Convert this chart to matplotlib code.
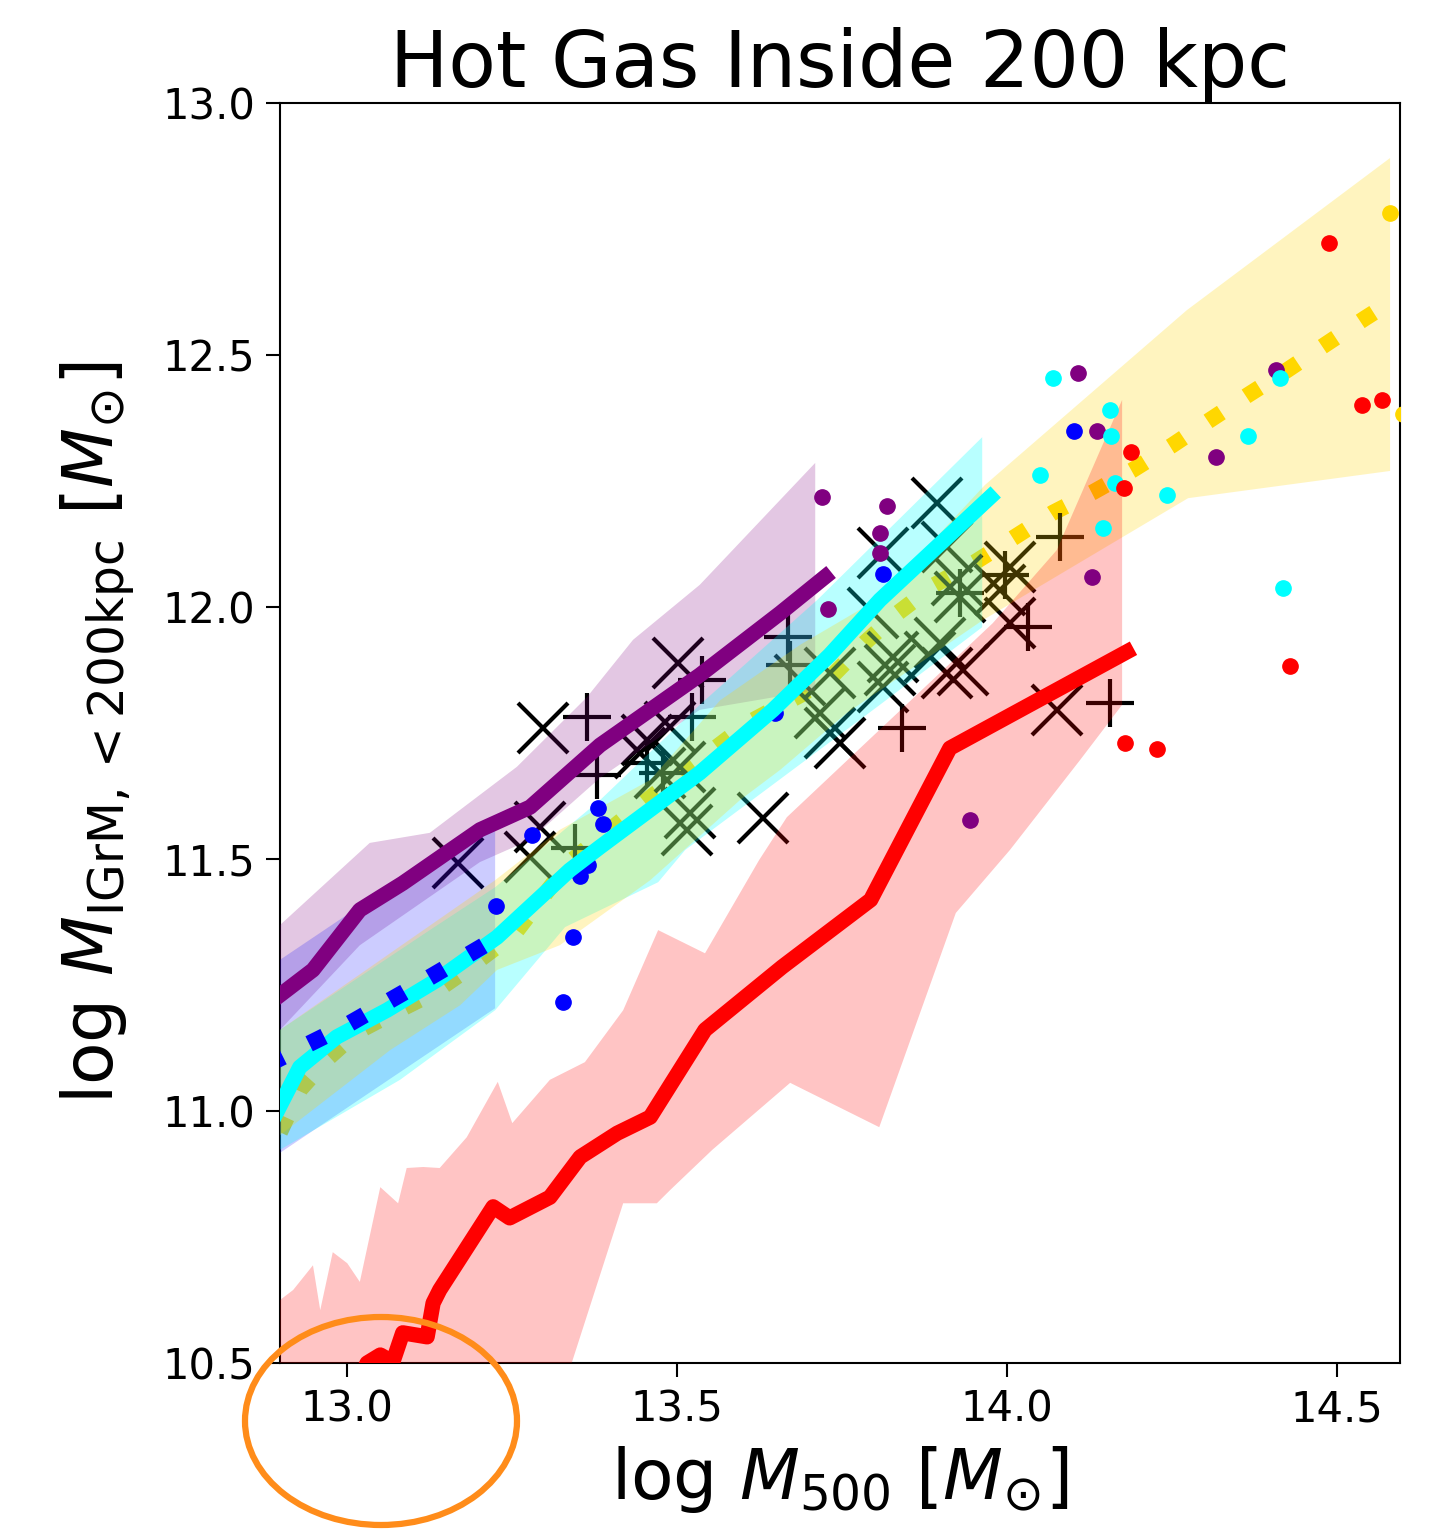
import numpy as np
import matplotlib.pyplot as plt
from matplotlib.patches import Ellipse

# median lines
purple_x = [12.898, 12.948, 13.019, 13.084, 13.201, 13.277, 13.383, 13.534, 13.656, 13.724]
purple_y = [11.230, 11.280, 11.399, 11.452, 11.558, 11.603, 11.726, 11.865, 11.988, 12.060]

cyan_x = [12.89, 12.928, 12.984, 13.060, 13.136, 13.227, 13.337, 13.383, 13.534, 13.645, 13.731, 13.807, 13.974]
cyan_y = [10.99, 11.087, 11.147, 11.200, 11.260, 11.345, 11.478, 11.524, 11.671, 11.796, 11.905, 12.014, 12.218]

blue_x = [12.88, 13.0, 13.1, 13.2, 13.235]
blue_y = [11.093, 11.171, 11.246, 11.323, 11.350]

gold_x = [12.898, 12.928, 12.971, 13.015, 13.069, 13.130, 13.174, 13.254, 13.337, 13.454, 13.504,
          13.610, 13.686, 13.736, 13.784, 13.834, 13.890, 13.951, 14.009, 14.069, 14.130, 14.190,
          14.250, 14.307, 14.365, 14.424, 14.481, 14.542, 14.560]
gold_y = [10.958, 11.042, 11.105, 11.157, 11.194, 11.234, 11.274, 11.353, 11.494, 11.617, 11.667,
          11.772, 11.825, 11.865, 11.929, 11.988, 12.044, 12.089, 12.137, 12.187, 12.228, 12.272,
          12.321, 12.371, 12.421, 12.470, 12.520, 12.573, 12.588]

red_x = [13.005, 13.030, 13.050, 13.069, 13.084, 13.121, 13.130, 13.140, 13.221, 13.246, 13.307,
         13.353, 13.409, 13.459, 13.542, 13.659, 13.793, 13.913, 14.181]
red_y = [10.43, 10.500, 10.516, 10.502, 10.560, 10.552, 10.619, 10.645, 10.810, 10.788, 10.829,
         10.909, 10.956, 10.988, 11.161, 11.286, 11.419, 11.720, 11.911]

# scatter bands (upper / lower edges)
purple_up_x = [12.898, 13.034, 13.125, 13.257, 13.363, 13.433, 13.534, 13.709]
purple_up_y = [11.369, 11.532, 11.552, 11.683, 11.821, 11.935, 12.044, 12.286]
purple_lo_x = [12.898, 13.019, 13.201, 13.277, 13.383, 13.534, 13.709]
purple_lo_y = [11.161, 11.329, 11.494, 11.538, 11.661, 11.796, 11.835]

blue_up_x = [12.898, 13.224]
blue_up_y = [11.300, 11.587]
blue_lo_x = [12.898, 13.224]
blue_lo_y = [10.917, 11.204]

cyan_up_x = [12.898, 13.125, 13.224, 13.383, 13.534, 13.712, 13.962]
cyan_up_y = [11.161, 11.359, 11.444, 11.617, 11.806, 12.014, 12.337]
cyan_lo_x = [12.898, 13.080, 13.224, 13.330, 13.471, 13.512, 13.807, 13.962]
cyan_lo_y = [10.923, 11.062, 11.200, 11.365, 11.454, 11.518, 11.806, 11.960]

gold_up_x = [12.898, 13.224, 13.322, 13.459, 13.565, 13.686, 13.807, 13.966, 14.272, 14.580]
gold_up_y = [11.161, 11.458, 11.558, 11.657, 11.815, 11.925, 12.018, 12.242, 12.589, 12.891]
gold_lo_x = [12.898, 13.065, 13.171, 13.227, 13.322, 13.459, 13.595, 13.656, 13.757, 13.963, 14.175, 14.274, 14.580]
gold_lo_y = [10.952, 11.121, 11.210, 11.280, 11.329, 11.458, 11.617, 11.677, 11.790, 11.974, 12.139, 12.216, 12.270]

red_up_x = [12.898, 12.918, 12.948, 12.959, 12.978, 13.000, 13.019, 13.050, 13.077, 13.090, 13.115,
            13.140, 13.181, 13.228, 13.250, 13.307, 13.360, 13.418, 13.471, 13.542, 13.624, 13.666,
            13.978, 14.075, 14.174]
red_up_y = [10.625, 10.645, 10.694, 10.605, 10.720, 10.698, 10.661, 10.849, 10.817, 10.887, 10.889,
            10.887, 10.948, 11.058, 10.976, 11.062, 11.097, 11.200, 11.359, 11.313, 11.498, 11.583,
            11.968, 12.113, 12.411]
red_lo_x = [12.898, 13.292, 13.340, 13.418, 13.469, 13.489, 13.553, 13.671, 13.806, 13.922, 14.004, 14.110, 14.174]
red_lo_y = [10.288, 10.288, 10.500, 10.817, 10.817, 10.843, 10.923, 11.056, 10.968, 11.393, 11.518, 11.696, 11.806]

# individual groups (dots)
blue_pts_x = [13.225, 13.280, 13.380, 13.387, 13.365, 13.353, 13.342, 13.327, 13.648, 13.812, 14.101]
blue_pts_y = [11.407, 11.548, 11.601, 11.569, 11.488, 11.466, 11.345, 11.216, 11.790, 12.065, 12.349]
purple_pts_x = [13.719, 13.818, 13.807, 13.807, 13.728, 14.128, 14.107, 14.136, 14.316, 14.407, 13.943]
purple_pts_y = [12.218, 12.200, 12.147, 12.107, 11.996, 12.060, 12.464, 12.349, 12.298, 12.470, 11.577]
cyan_pts_x = [14.069, 14.156, 14.157, 14.050, 14.163, 14.145, 14.242, 14.365, 14.413, 14.418]
cyan_pts_y = [12.454, 12.391, 12.339, 12.262, 12.246, 12.157, 12.222, 12.339, 12.454, 12.038]
red_pts_x = [14.487, 14.187, 14.177, 14.537, 14.568, 14.178, 14.227, 14.428]
red_pts_y = [12.722, 12.308, 12.236, 12.401, 12.411, 11.730, 11.718, 11.883]
gold_pts_x = [14.580, 14.600]
gold_pts_y = [12.782, 12.383]

# observed groups
obs_x_x = [13.168, 13.296, 13.292, 13.277, 13.501, 13.454, 13.489, 13.443, 13.474, 13.504, 13.515,
           13.519, 13.630, 13.686, 13.716, 13.731, 13.746, 13.731, 13.812, 13.822, 13.893, 13.909,
           13.924, 13.898, 13.883, 13.827, 13.797, 13.812, 13.909, 13.933, 14.004, 14.004, 14.075,
           13.928, 13.989]
obs_x_y = [11.492, 11.760, 11.563, 11.504, 11.889, 11.736, 11.762, 11.710, 11.671, 11.683, 11.558,
           11.591, 11.581, 11.855, 11.790, 11.750, 11.730, 11.869, 12.107, 11.875, 12.206, 12.119,
           12.054, 11.929, 11.901, 11.901, 11.988, 11.841, 11.869, 11.875, 12.079, 11.968, 11.796,
           12.020, 12.034]
obs_p_x = [13.363, 13.378, 13.537, 13.522, 13.454, 13.478, 13.345, 13.668, 13.671, 13.840, 13.928,
           14.080, 14.031, 14.156, 13.997]
obs_p_y = [11.782, 11.667, 11.855, 11.782, 11.690, 11.671, 11.522, 11.940, 11.885, 11.760, 12.028,
           12.139, 11.960, 11.810, 12.063]

fig = plt.figure(figsize=(14.35, 15.31), dpi=100)
ax = fig.add_axes([0.1951, 0.1097, 0.7805, 0.8230])


def band(xu, yu, xl, yl, color, alpha):
    ax.fill(np.r_[xu, xl[::-1]], np.r_[yu, yl[::-1]], color=color, alpha=alpha, lw=0, zorder=3)


ax.plot(gold_x, gold_y, color='gold', lw=11.5, ls=(0, (1, 1.85)), zorder=1)
ax.plot(obs_x_x, obs_x_y, 'x', color='black', ms=36, mew=3, zorder=2)
ax.plot(obs_p_x, obs_p_y, '+', color='black', ms=34, mew=3, zorder=2)

band(purple_up_x, purple_up_y, purple_lo_x, purple_lo_y, 'purple', 0.22)
band(blue_up_x, blue_up_y, blue_lo_x, blue_lo_y, 'blue', 0.2)
band(cyan_up_x, cyan_up_y, cyan_lo_x, cyan_lo_y, 'cyan', 0.28)
band(gold_up_x, gold_up_y, gold_lo_x, gold_lo_y, 'gold', 0.25)
band(red_up_x, red_up_y, red_lo_x, red_lo_y, 'red', 0.23)

ax.plot(blue_pts_x, blue_pts_y, 'o', color='blue', ms=11, zorder=4)
ax.plot(purple_pts_x, purple_pts_y, 'o', color='purple', ms=11, zorder=4)
ax.plot(cyan_pts_x, cyan_pts_y, 'o', color='cyan', ms=11, zorder=4)
ax.plot(red_pts_x, red_pts_y, 'o', color='red', ms=11, zorder=4)
ax.plot(gold_pts_x, gold_pts_y, 'o', color='gold', ms=11, zorder=4)

ax.plot(purple_x, purple_y, color='purple', lw=11, zorder=5)
ax.plot(cyan_x, cyan_y, color='cyan', lw=11, zorder=5)
ax.plot(red_x, red_y, color='red', lw=11, zorder=5)
ax.plot(blue_x, blue_y, color='blue', lw=12, ls=(0, (1, 1.75)), zorder=6)

ax.set_xlim(12.898, 14.595)
ax.set_ylim(10.5, 13.0)
ax.set_xticks([13.0, 13.5, 14.0, 14.5])
ax.set_yticks([10.5, 11.0, 11.5, 12.0, 12.5, 13.0])
ax.tick_params(direction='out', length=10, width=1.5, labelsize=30, pad=8)
for s in ax.spines.values():
    s.set_linewidth(1.5)

ax.set_title('Hot Gas Inside 200 kpc', fontsize=56, pad=8)
ax.set_xlabel(r'log $M_{500}$ $[M_{\odot}]$', fontsize=50, labelpad=10)
ax.set_ylabel(r'log $M_{\mathrm{IGrM},<200\mathrm{kpc}}$ $[M_{\odot}]$', fontsize=50, labelpad=18)

# orange highlight around the first tick label
fig.patches.append(Ellipse((381 / 1435, 1 - 1421 / 1531), 272 / 1435, 208 / 1531,
                           transform=fig.transFigure, fill=False, ec='#ff8c1a', lw=4.5))

fig.savefig('out.png', dpi=100)
